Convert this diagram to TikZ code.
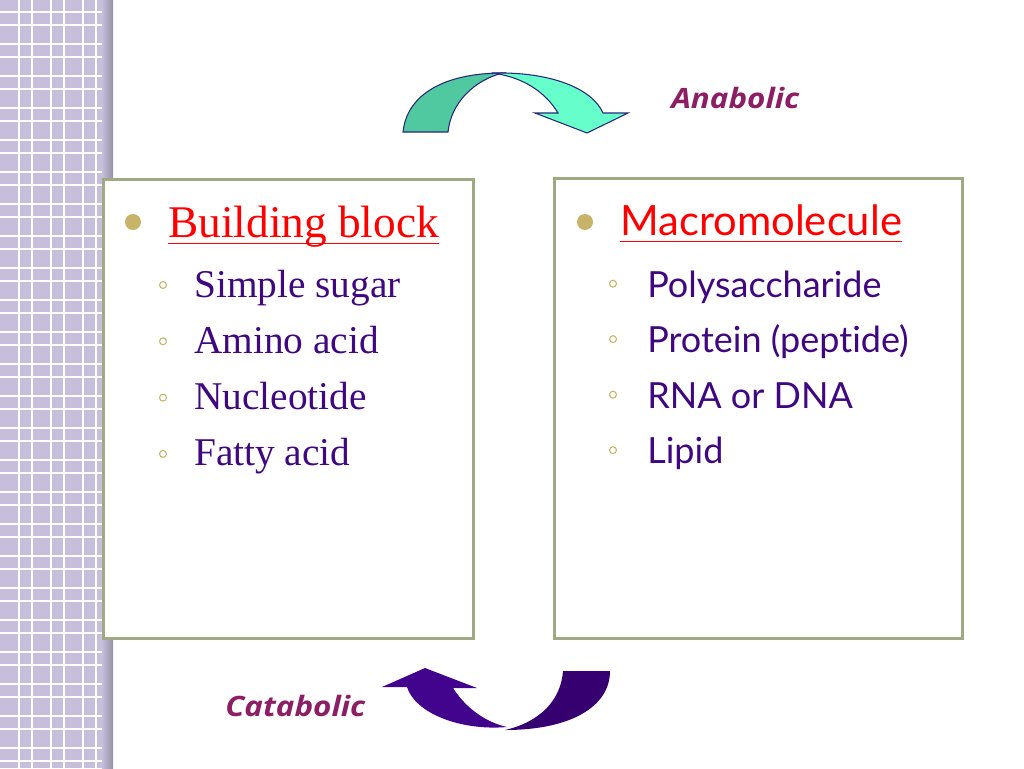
\documentclass[tikz,border=0pt]{standalone}
\usepackage{xcolor}
\usepackage{fontspec}
\setmainfont{Liberation Serif}
\newfontfamily\gillfont[Ligatures={NoCommon}]{Lato}
\newfontfamily\labelfont[FakeStretch=1.12]{Open Sans}
\usepackage{tikz}
\usetikzlibrary{positioning, calc}
\definecolor{stripfill}{RGB}{198,190,218}
\definecolor{stripshade}{RGB}{150,144,165}
\definecolor{boxline}{RGB}{160,170,130}
\definecolor{bulletgold}{RGB}{200,180,105}
\definecolor{itemviolet}{RGB}{64,8,128}
\definecolor{labelplum}{RGB}{140,30,100}
\definecolor{anadark}{RGB}{80,200,160}
\definecolor{analight}{RGB}{102,255,204}
\definecolor{anaedge}{RGB}{40,40,120}
\definecolor{catafront}{RGB}{66,4,140}
\definecolor{cataback}{RGB}{54,0,112}

\tikzset{
  panel/.style={draw=boxline, line width=2.25pt, fill=white, anchor=north west, inner sep=0pt},
  ttl/.style={anchor=base west, inner sep=0pt, text=red},
  titlerule/.style={red, line width=0.7pt},
  leftitem/.style={anchor=base west, inner sep=0pt, text=itemviolet, font=\fontsize{29.5}{34}\selectfont},
  rightitem/.style={anchor=base west, inner sep=0pt, text=itemviolet, font=\gillfont\fontsize{27}{30}\selectfont},
  ring/.style={draw=bulletgold, line width=0.8pt},
  arrowlabel/.style={anchor=base west, inner sep=0pt, text=labelplum, font=\labelfont\bfseries\itshape\fontsize{21}{24}\selectfont},
}

\begin{document}
\begin{tikzpicture}[x=0.75pt, y=-0.75pt]
  \useasboundingbox (0,0) rectangle (1024,768);
  \pgfmathsetmacro{\stripw}{113}

  % side strip with its grid
  \fill[stripfill] (0,0) rectangle (\stripw,768);
  \foreach \gx in {19,32,51,64,83,96}
    \draw[white, line width=1.5pt] (\gx,0) -- (\gx,768);
  \foreach \k in {0,...,23} {
    \draw[white, line width=1.5pt] (0,{12+32*\k}) -- ++(\stripw,0);
    \draw[white, line width=1.5pt] (0,{25+32*\k}) -- ++(\stripw,0);
  }
  \shade[left color=stripfill, right color=stripshade] (102,0) rectangle (\stripw,768);

  % the two panels
  \node[panel, minimum width=277.5pt, minimum height=344.25pt] (blockBox) at (101.5,178) {};
  \node[panel, minimum width=306pt, minimum height=345pt] (macroBox) at (552.5,177) {};

  % titles
  \node[ttl, font=\fontsize{34}{40}\selectfont] (blockTitle) at (168,237) {Building block};
  \node[ttl, font=\gillfont\fontsize{31.3}{36}\selectfont] (macroTitle) at (620,235) {Macromolecule};
  \draw[titlerule] ([yshift=-4.5pt]blockTitle.base west) -- ([yshift=-4.5pt]blockTitle.base east);
  \draw[titlerule] ([yshift=-5.2pt]macroTitle.base west) -- ([yshift=-5.2pt]macroTitle.base east);
  \fill[bulletgold] ([xshift=-26.25pt, yshift=11.25pt]blockTitle.base west) circle (6pt);
  \fill[bulletgold] ([xshift=-26.25pt, yshift=9.75pt]macroTitle.base west) circle (6pt);

  % items
  \foreach \txt [count=\i] in {Simple sugar, Amino acid, Nucleotide, Fatty acid} {
    \node[leftitem] (block\i) at (194,{297+56.3*(\i-1)}) {\txt};
    \draw[ring] ([xshift=-23.25pt, yshift=9pt]block\i.base west) circle (2.6pt);
  }
  \foreach \txt [count=\i] in {Polysaccharide, Protein (peptide), RNA or DNA, Lipid} {
    \node[rightitem] (macro\i) at (647,{297+55.5*(\i-1)}) {\txt};
    \draw[ring] ([xshift=-25.5pt, yshift=10pt]macro\i.base west) circle (2.6pt);
  }

  % anabolic arrow
  \filldraw[fill=anadark, draw=anaedge, line width=0.8pt]
    (403,132) .. controls (407,94) and (445,73) .. (503,73)
    .. controls (474,80) and (451,103) .. (448,132) -- cycle;
  \filldraw[fill=analight, draw=anaedge, line width=0.8pt]
    (495,73) .. controls (550,72) and (592,88) .. (603,113)
    -- (628,113) -- (587,133) -- (535,113) -- (558,113)
    .. controls (546,93) and (526,80) .. (503,75) -- cycle;
  \node[arrowlabel] (anaLabel) at (671,108) {Anabolic};

  % catabolic arrow
  \fill[cataback]
    (563,671) -- (610,671) .. controls (610,707) and (570,730) .. (505,730)
    .. controls (540,722) and (561,700) .. (563,671) -- cycle;
  \fill[catafront]
    (407,687) -- (382,687) -- (425,668) -- (477,688) -- (453,688)
    .. controls (466,708) and (485,722) .. (507,727)
    .. controls (460,731) and (415,713) .. (407,687) -- cycle;
  \node[arrowlabel] (cataLabel) at (225,716) {Catabolic};
\end{tikzpicture}
\end{document}
